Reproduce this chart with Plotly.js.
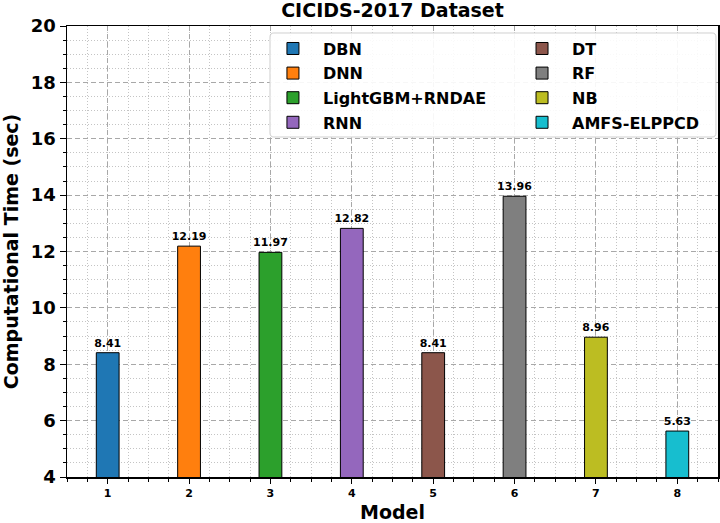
<!DOCTYPE html>
<html>
<head>
<meta charset="utf-8">
<script src="https://cdn.plot.ly/plotly-3.0.1.min.js"></script>
<style>html,body{margin:0;padding:0;background:#fff;}#chart{width:720px;height:523px;}</style>
</head>
<body>
<div id="chart"></div>
<script>
// ---- data ----
const models = [1, 2, 3, 4, 5, 6, 7, 8];
const modelNames = ['DBN', 'DNN', 'LightGBM+RNDAE', 'RNN', 'DT', 'RF', 'NB', 'AMFS-ELPPCD'];
const compTimes = [8.41, 12.19, 11.97, 12.82, 8.41, 13.96, 8.96, 5.63];
const barColors = ['#1f77b4', '#ff7f0e', '#2ca02c', '#9467bd', '#8c564b', '#7f7f7f', '#bcbd22', '#17becf'];
const xTickLabels = ['1', '2', '3', '4', '5', '6', '7', '8'];

const FONT = 'DejaVu Sans, Verdana, sans-serif';

const traces = models.map((m, i) => ({
  type: 'bar',
  x: [m],
  y: [compTimes[i]],
  name: modelNames[i],
  legendgroup: 'g' + i,
  width: 0.28,
  marker: {color: barColors[i], line: {color: '#000', width: 1}},
  text: [compTimes[i].toFixed(2)],
  textposition: 'outside',
  constraintext: 'none',
  cliponaxis: false,
  textfont: {family: FONT, size: 11, color: '#000', weight: 700},
  legend: i < 4 ? 'legend' : 'legend2',
  hoverinfo: 'name+y'
}));

// legend frame (rounded rectangle in paper coords)
const bx0 = 0.3118, bx1 = 0.9969, by0 = 0.7539, by1 = 0.9845, rx = 0.006, ry = 0.009;
const framePath = `M${bx0+rx},${by1} L${bx1-rx},${by1} Q${bx1},${by1} ${bx1},${by1-ry} L${bx1},${by0+ry} Q${bx1},${by0} ${bx1-rx},${by0} L${bx0+rx},${by0} Q${bx0},${by0} ${bx0},${by0+ry} L${bx0},${by1-ry} Q${bx0},${by1} ${bx0+rx},${by1} Z`;

const legendCommon = {
  bgcolor: 'rgba(0,0,0,0)',
  borderwidth: 0,
  font: {family: FONT, size: 16, color: '#000', weight: 700},
  itemwidth: 50,
  traceorder: 'grouped',
  tracegroupgap: 0.8,
  xanchor: 'left',
  yanchor: 'top',
  y: 0.9876,
  orientation: 'v'
};

const layout = {
  width: 720,
  height: 523,
  margin: {l: 67, r: 2, t: 26, b: 46},
  paper_bgcolor: '#fff',
  plot_bgcolor: '#fff',
  barmode: 'overlay',
  showlegend: true,
  font: {family: FONT, color: '#000'},
  title: {
    text: 'CICIDS-2017 Dataset',
    font: {family: FONT, size: 19, color: '#000', weight: 700},
    x: 0.5, xref: 'paper', xanchor: 'center',
    y: 0.981, yref: 'container', yanchor: 'middle'
  },
  xaxis: {
    range: [0.5, 8.5],
    tickmode: 'array',
    tickvals: models,
    ticktext: xTickLabels,
    tickfont: {family: FONT, size: 11, color: '#000', weight: 700},
    ticks: 'outside', ticklen: 5, tickwidth: 1, tickcolor: '#000',
    showline: true, linecolor: '#000', linewidth: 1.5, mirror: true,
    showgrid: true, gridcolor: '#a8a8a8', gridwidth: 1, griddash: '5px,3px',
    zeroline: false,
    minor: {dtick: 0.25, tick0: 0.5, ticks: 'outside', ticklen: 3, tickcolor: '#000', showgrid: true, gridcolor: '#c4c4c4', gridwidth: 1, griddash: '1px,2px'},
    title: {text: 'Model', font: {family: FONT, size: 19, color: '#000', weight: 700}, standoff: 11}
  },
  yaxis: {
    range: [4, 20],
    dtick: 2, tick0: 0,
    tickfont: {family: FONT, size: 18, color: '#000', weight: 700},
    ticks: 'outside', ticklen: 6, tickwidth: 1, tickcolor: '#000',
    showline: true, linecolor: '#000', linewidth: 1.5, mirror: true,
    showgrid: true, gridcolor: '#a8a8a8', gridwidth: 1, griddash: '5px,3px',
    zeroline: false,
    minor: {dtick: 0.5, ticks: 'outside', ticklen: 3, tickcolor: '#000', showgrid: true, gridcolor: '#c4c4c4', gridwidth: 1, griddash: '1px,2px'},
    title: {text: 'Computational Time (sec)', font: {family: FONT, size: 19, color: '#000', weight: 700}, standoff: 8}
  },
  legend: Object.assign({}, legendCommon, {x: 0.301}),
  legend2: Object.assign({}, legendCommon, {x: 0.6836}),
  shapes: [{
    type: 'path', xref: 'paper', yref: 'paper', path: framePath,
    fillcolor: 'rgba(255,255,255,0.9)', line: {color: '#d0d0d0', width: 1}, layer: 'above'
  }]
};

Plotly.newPlot('chart', traces, layout, {displayModeBar: false, staticPlot: true});
</script>
</body>
</html>
